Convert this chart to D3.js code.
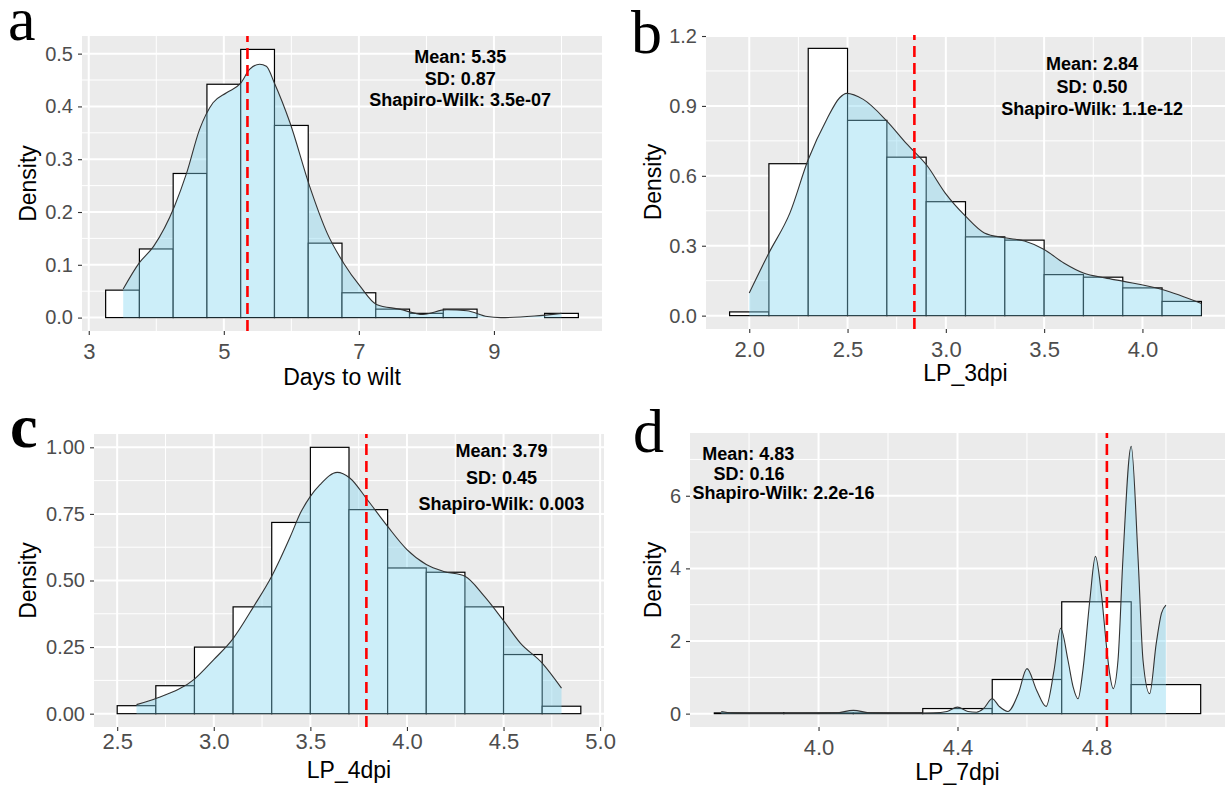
<!DOCTYPE html>
<html>
<head>
<meta charset="utf-8">
<script src="https://cdn.jsdelivr.net/npm/d3@7"></script>
<style>
body { margin: 0; background: #fff; }
svg { display: block; font-family: "Liberation Sans", Arial, sans-serif; }
</style>
</head>
<body>
<svg width="1225" height="788"></svg>
<script>
// a: days to wilt
var wiltEdges = [3.25, 3.75, 4.25, 4.75, 5.25, 5.75, 6.25, 6.75, 7.25, 7.75, 8.25, 8.75, 9.25, 9.75, 10.25];
var wiltHeights = [0.052, 0.130, 0.273, 0.442, 0.508, 0.364, 0.141, 0.047, 0.016, 0.008, 0.016, 0, 0, 0.008];
var wiltDensity = [[3.51, 0.054], [3.75, 0.104], [3.96, 0.135], [4.27, 0.211], [4.45, 0.274], [4.64, 0.356],
    [4.84, 0.407], [5.04, 0.426], [5.25, 0.444], [5.38, 0.470], [5.53, 0.480], [5.63, 0.476], [5.75, 0.444],
    [5.98, 0.369], [6.27, 0.249], [6.53, 0.160], [6.77, 0.104], [7.02, 0.059], [7.26, 0.025], [7.6, 0.016],
    [7.95, 0.006], [8.3, 0.015], [8.6, 0.013], [8.9, 0.002], [9.1, 0], [9.6, 0.003], [10.0, 0.008]];
var wiltMean = 5.35;
var wiltStats = ["Mean: 5.35", "SD: 0.87", "Shapiro-Wilk: 3.5e-07"];
var wiltXTicks = [3, 5, 7, 9];
var wiltYTicks = [0, 0.1, 0.2, 0.3, 0.4, 0.5];

// b: LP_3dpi
var lp3Edges = [1.9, 2.1, 2.3, 2.5, 2.7, 2.9, 3.1, 3.3, 3.5, 3.7, 3.9, 4.1, 4.3];
var lp3Heights = [0.016, 0.652, 1.147, 0.838, 0.680, 0.489, 0.338, 0.324, 0.176, 0.165, 0.119, 0.061];
var lp3Density = [[2.0, 0.097], [2.1, 0.269], [2.207, 0.441], [2.3, 0.670], [2.394, 0.842], [2.46, 0.935],
    [2.495, 0.954], [2.58, 0.928], [2.70, 0.835], [2.80, 0.738], [2.906, 0.642], [2.996, 0.527], [3.10, 0.427],
    [3.196, 0.355], [3.30, 0.334], [3.40, 0.32], [3.50, 0.284], [3.60, 0.226], [3.70, 0.183], [3.81, 0.162],
    [3.905, 0.147], [4.10, 0.112], [4.30, 0.052]];
var lp3Mean = 2.84;
var lp3Stats = ["Mean: 2.84", "SD: 0.50", "Shapiro-Wilk: 1.1e-12"];
var lp3XTicks = [2.0, 2.5, 3.0, 3.5, 4.0];
var lp3YTicks = [0, 0.3, 0.6, 0.9, 1.2];

// c: LP_4dpi
var lp4Edges = [2.5, 2.7, 2.9, 3.1, 3.3, 3.5, 3.7, 3.9, 4.1, 4.3, 4.5, 4.7, 4.9];
var lp4Heights = [0.030, 0.105, 0.250, 0.401, 0.718, 1.000, 0.766, 0.547, 0.531, 0.401, 0.222, 0.028];
var lp4Density = [[2.60, 0.034], [2.707, 0.059], [2.90, 0.130], [3.0, 0.203], [3.098, 0.280], [3.207, 0.403],
    [3.30, 0.516], [3.397, 0.666], [3.449, 0.754], [3.50, 0.816], [3.55, 0.860], [3.639, 0.906], [3.704, 0.885],
    [3.794, 0.804], [3.90, 0.703], [4.0, 0.616], [4.10, 0.560], [4.19, 0.534], [4.30, 0.516], [4.40, 0.441],
    [4.496, 0.353], [4.587, 0.265], [4.70, 0.190], [4.80, 0.096]];
var lp4Mean = 3.79;
var lp4Stats = ["Mean: 3.79", "SD: 0.45", "Shapiro-Wilk: 0.003"];
var lp4XTicks = [2.5, 3.0, 3.5, 4.0, 4.5, 5.0];
var lp4YTicks = [0, 0.25, 0.5, 0.75, 1.0];

// d: LP_7dpi
var lp7Edges = [3.7, 3.9, 4.1, 4.3, 4.5, 4.7, 4.9, 5.1];
var lp7Heights = [0.02, 0.02, 0.02, 0.14, 0.94, 3.08, 0.80];
var lp7Density = [[3.72, 0.06], [3.75, 0.02], [3.8, 0.01], [3.95, 0.01], [4.05, 0.02], [4.1, 0.09], [4.15, 0.02],
    [4.25, 0.01], [4.33, 0.02], [4.37, 0.06], [4.40, 0.18], [4.43, 0.06], [4.455, 0.04], [4.475, 0.14],
    [4.50, 0.41], [4.52, 0.2], [4.545, 0.06], [4.575, 0.55], [4.60, 1.24], [4.628, 0.64], [4.655, 0.2],
    [4.678, 1.2], [4.697, 2.35], [4.718, 1.47], [4.733, 0.73], [4.747, 0.41], [4.761, 1.2], [4.781, 3.13],
    [4.797, 4.33], [4.814, 3.31], [4.829, 1.84], [4.838, 1.1], [4.848, 0.69], [4.862, 1.47], [4.876, 4.23],
    [4.90, 7.36], [4.92, 4.23], [4.934, 1.47], [4.953, 0.55], [4.972, 1.93], [4.987, 2.76], [5.0, 2.99]];
var lp7Mean = 4.83;
var lp7Stats = ["Mean: 4.83", "SD: 0.16", "Shapiro-Wilk: 2.2e-16"];
var lp7XTicks = [4.0, 4.4, 4.8];
var lp7YTicks = [0, 2, 4, 6];

var svg = d3.select("svg");
svg.append("rect").attr("width", 1225).attr("height", 788).attr("fill", "#fff");

var panels = [
    {letter: "a", edges: wiltEdges, heights: wiltHeights, density: wiltDensity, mean: wiltMean, stats: wiltStats,
        xTicks: wiltXTicks, yTicks: wiltYTicks, xFormat: d3.format("d"), yFormat: d3.format(".1f"), xTitle: "Days to wilt",
        box: {left: 82, right: 602, top: 36, bottom: 331}, statX: [8.5, 8.5, 8.5], statY: 63, statStep: 21.5,
        letterAt: [8, 40], letterBold: false, xTitleY: 385, yTitleX: 36, xPad: 8},
    {letter: "b", edges: lp3Edges, heights: lp3Heights, density: lp3Density, mean: lp3Mean, stats: lp3Stats,
        xTicks: lp3XTicks, yTicks: lp3YTicks, xFormat: d3.format(".1f"), yFormat: d3.format(".1f"), xTitle: "LP_3dpi",
        box: {left: 706, right: 1225, top: 35, bottom: 329}, statX: [3.744, 3.744, 3.744], statY: 70, statStep: 22.5,
        letterAt: [631, 53], letterBold: false, xTitleY: 381, yTitleX: 661, xPad: 8},
    {letter: "c", edges: lp4Edges, heights: lp4Heights, density: lp4Density, mean: lp4Mean, stats: lp4Stats,
        xTicks: lp4XTicks, yTicks: lp4YTicks, xFormat: d3.format(".1f"), yFormat: d3.format(".2f"), xTitle: "LP_4dpi",
        box: {left: 94, right: 604, top: 434, bottom: 727}, statX: [4.489, 4.489, 4.489], statY: 457, statStep: 26.5,
        letterAt: [10, 447], letterBold: true, xTitleY: 778, yTitleX: 36, xPad: 2},
    {letter: "d", edges: lp7Edges, heights: lp7Heights, density: lp7Density, mean: lp7Mean, stats: lp7Stats,
        xTicks: lp7XTicks, yTicks: lp7YTicks, xFormat: d3.format(".1f"), yFormat: d3.format("d"), xTitle: "LP_7dpi",
        box: {left: 690, right: 1225, top: 433, bottom: 727}, statX: [3.798, 3.80, 3.899], statY: 460, statStep: 19.7,
        letterAt: [633, 452], letterBold: false, xTitleY: 780, yTitleX: 661, xPad: 8}
];

// minor grid sits halfway between the major breaks, like ggplot
var minorsOf = function(ticks, domain) {
    var step = ticks[1] - ticks[0];
    var out = [];
    for (var i = -1; i < ticks.length; i += 1) {
        var v = ticks[0] + (i + 0.5) * step;
        if (v > domain[0] && v < domain[1]) {
            out.push(v);
        }
    }
    return out;
};

var drawPanel = function(p) {
    var box = p.box;
    var lo = p.edges[0], hi = p.edges[p.edges.length - 1];
    var xExp = (hi - lo) * 0.05;
    var x = d3.scaleLinear().domain([lo - xExp, hi + xExp]).range([box.left, box.right]);
    var yMax = Math.max(d3.max(p.heights), d3.max(p.density, function(d) { return d[1]; }));
    var y = d3.scaleLinear().domain([-yMax * 0.05, yMax * 1.05]).range([box.bottom, box.top]);

    var g = svg.append("g").attr("class", "panel-" + p.letter);

    g.append("rect")
        .attr("x", box.left).attr("y", box.top)
        .attr("width", box.right - box.left).attr("height", box.bottom - box.top)
        .attr("fill", "#EBEBEB");

    var grid = g.append("g").attr("stroke", "#fff");
    grid.selectAll(".vminor").data(minorsOf(p.xTicks, x.domain())).enter().append("line")
        .attr("x1", x).attr("x2", x).attr("y1", box.top).attr("y2", box.bottom).attr("stroke-width", 1);
    grid.selectAll(".hminor").data(minorsOf(p.yTicks, y.domain())).enter().append("line")
        .attr("y1", y).attr("y2", y).attr("x1", box.left).attr("x2", box.right).attr("stroke-width", 1);
    grid.selectAll(".vmajor").data(p.xTicks).enter().append("line")
        .attr("x1", x).attr("x2", x).attr("y1", box.top).attr("y2", box.bottom).attr("stroke-width", 2);
    grid.selectAll(".hmajor").data(p.yTicks).enter().append("line")
        .attr("y1", y).attr("y2", y).attr("x1", box.left).attr("x2", box.right).attr("stroke-width", 2);

    var bins = p.heights.map(function(h, i) {
        return {x0: p.edges[i], x1: p.edges[i + 1], h: h};
    });

    g.selectAll(".bar").data(bins).enter().append("rect")
        .attr("class", "bar")
        .attr("x", function(d) { return x(d.x0); })
        .attr("y", function(d) { return y(d.h); })
        .attr("width", function(d) { return x(d.x1) - x(d.x0); })
        .attr("height", function(d) { return y(0) - y(d.h); })
        .attr("fill", "#fff")
        .attr("stroke", "#000")
        .attr("stroke-width", 1.2);

    g.append("path")
        .datum(p.density)
        .attr("fill", "#80D4F0")
        .attr("fill-opacity", 0.4)
        .attr("d", d3.area()
            .x(function(d) { return x(d[0]); })
            .y0(y(0))
            .y1(function(d) { return y(d[1]); })
            .curve(d3.curveMonotoneX));

    g.append("path")
        .datum(p.density)
        .attr("fill", "none")
        .attr("stroke", "#333")
        .attr("stroke-width", 1.1)
        .attr("d", d3.line()
            .x(function(d) { return x(d[0]); })
            .y(function(d) { return y(d[1]); })
            .curve(d3.curveMonotoneX));

    g.append("line")
        .attr("x1", x(p.mean)).attr("x2", x(p.mean))
        .attr("y1", box.bottom).attr("y2", box.top)
        .attr("stroke", "#FF0000")
        .attr("stroke-width", 2.6)
        .attr("stroke-dasharray", "11,6");

    g.selectAll(".stat").data(p.stats).enter().append("text")
        .attr("x", function(d, i) { return x(p.statX[i]); })
        .attr("y", function(d, i) { return p.statY + i * p.statStep; })
        .attr("text-anchor", "middle")
        .attr("font-weight", "bold")
        .attr("font-size", 18)
        .attr("fill", "#000")
        .text(function(d) { return d; });

    var yAxis = g.append("g")
        .attr("transform", "translate(" + box.left + ",0)")
        .call(d3.axisLeft(y).tickValues(p.yTicks).tickFormat(p.yFormat).tickSize(4).tickPadding(5));
    yAxis.attr("font-family", null).attr("font-size", 20);
    yAxis.select(".domain").remove();
    yAxis.selectAll("line").attr("stroke", "#333").attr("stroke-width", 1.1);
    yAxis.selectAll("text").attr("fill", "#4D4D4D");

    var xAxis = g.append("g")
        .attr("transform", "translate(0," + box.bottom + ")")
        .call(d3.axisBottom(x).tickValues(p.xTicks).tickFormat(p.xFormat).tickSize(4).tickPadding(p.xPad));
    xAxis.attr("font-family", null).attr("font-size", 22);
    xAxis.select(".domain").remove();
    xAxis.selectAll("line").attr("stroke", "#333").attr("stroke-width", 1.1);
    xAxis.selectAll("text").attr("fill", "#4D4D4D");

    g.append("text")
        .attr("x", (box.left + box.right) / 2)
        .attr("y", p.xTitleY)
        .attr("text-anchor", "middle")
        .attr("font-size", 23)
        .text(p.xTitle);

    g.append("text")
        .attr("transform", "translate(" + p.yTitleX + "," + ((box.top + box.bottom) / 2) + ") rotate(-90)")
        .attr("text-anchor", "middle")
        .attr("font-size", 23)
        .text("Density");

    g.append("text")
        .attr("x", p.letterAt[0])
        .attr("y", p.letterAt[1])
        .attr("font-family", "'Liberation Serif', 'Times New Roman', serif")
        .attr("font-size", 62)
        .attr("font-weight", p.letterBold ? "bold" : "normal")
        .text(p.letter);
};

panels.forEach(drawPanel);
</script>
</body>
</html>
